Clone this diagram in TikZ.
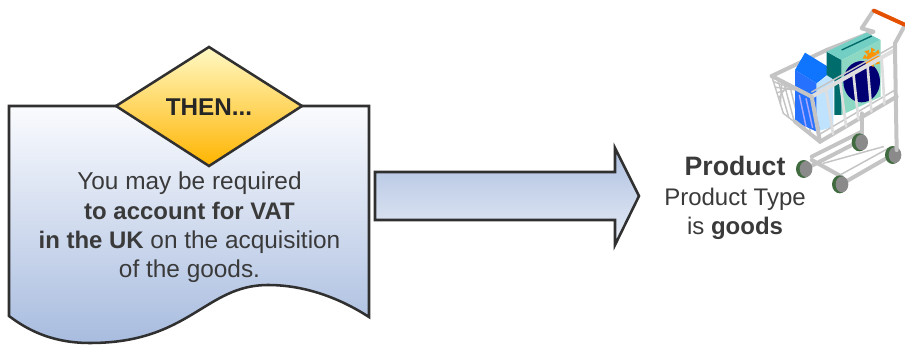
\documentclass[tikz,border=0pt]{standalone}
\usepackage{fontspec}
\setmainfont{Liberation Sans}
\usetikzlibrary{calc}
\definecolor{ink}{HTML}{303030}
\definecolor{txt}{HTML}{3A3A3A}
\definecolor{bar}{HTML}{C4C4C4}
\definecolor{barl}{HTML}{DEDEDE}
\definecolor{wheelg}{HTML}{8A8A8A}
\definecolor{wheeld}{HTML}{3F6B3F}
\definecolor{docT}{HTML}{FAFBFE}
\definecolor{docB}{HTML}{A8BCDF}
\definecolor{arrT}{HTML}{AEC0E0}
\definecolor{arrB}{HTML}{E6ECF6}
\definecolor{diaT}{HTML}{FFF9C4}
\definecolor{diaB}{HTML}{FFB400}
\definecolor{cartonface}{HTML}{BFE3FF}
\tikzset{
 outline/.style={draw=ink,line width=1.9pt,line join=miter},
 label/.style={font=\fontsize{18.3pt}{22pt}\selectfont,text=txt,align=center,inner sep=0pt},
 cartbar/.style={draw=bar,line width=3pt,line cap=round,line join=round},
 cartmid/.style={draw=barl,line width=2pt,line cap=round},
 cartfine/.style={draw=bar,line width=1.1pt,line cap=round},
 wheelback/.style={fill=wheeld,draw=none},
 wheelfront/.style={fill=wheelg,draw=none},
}
\newcommand{\bfx}[1]{{\fontsize{17.95pt}{22pt}\selectfont\bfseries #1}}
\begin{document}
\begin{tikzpicture}[x=0.75pt,y=-0.75pt]
\useasboundingbox (0,0) rectangle (905,345);
% document shape
\path[outline,top color=docT,bottom color=docB]
  (9,106) -- (369,106) -- (369,317)
  .. controls (335,295) and (300,285) .. (268,285)
  .. controls (205,285) and (190,343) .. (90,343)
  .. controls (55,343) and (30,332) .. (9,316) -- cycle;
% diamond
\path[outline,top color=diaT,bottom color=diaB]
  (209,47) -- (302,106) -- (209,166) -- (116,106) -- cycle;
\node[label,font=\fontsize{18.2pt}{22pt}\selectfont\bfseries,text=black!85] (then) at (209,107) {THEN...};
\node[label,anchor=center] (body) at (189.5,227.5) {You may be required\\\bfx{to account for VAT}\\\bfx{in the UK} on the acquisition\\of the goods.};
% block arrow
\path[outline,top color=arrT,bottom color=arrB]
  (375,172) -- (615,172) -- (615,148) -- (639,196) -- (615,245) -- (615,220) -- (375,220) -- cycle;
% product text
\node[label,font=\fontsize{18pt}{22pt}\selectfont] (prod) at (735,198) {\textbf{\fontsize{20pt}{22pt}\selectfont Product}\\Product Type\\is \textbf{goods}};
% cart
\begin{scope}[shift={(740,0)},x=0.25pt,y=-0.25pt]
 % rear base and legs
 \draw[cartbar] (365,340) -- (365,420);
 \draw[cartbar] (215,470) -- (365,395) (200,505) -- (365,420);
 \draw[cartbar] (300,555) -- (465,460);
 \draw[cartbar] (215,480) -- (305,530);
 \draw[cartfine] (250,490) -- (430,440) (300,525) -- (445,445);
 % wheels
 \foreach \n/\wx/\wy in {a/195/507,b/303/553,c/362/427,d/462/465}{
   \fill[wheelback] (\wx-4,\wy) ellipse [x radius=23,y radius=27];
   \fill[wheelfront] (\wx+3,\wy) ellipse [x radius=19,y radius=24];
 }
 % back of basket
 \draw[cartbar] (95,228) -- (260,150) -- (400,95);
 \draw[cartfine] (95,228) -- (130,340) -- (240,425);
 \foreach \t in {0.15,0.3,...,0.9}{
   \draw[cartfine] ($(95,228)!\t!(130,340)$) -- ($(95,228)!1-\t!(215,290)$);
   \draw[cartfine] ($(95,228)!\t!(215,290)$) -- ($(130,340)!\t!(240,425)$);
 }
 % carton
 \fill[fill=white!10!blue!60!cyan] (165,210) -- (195,158) -- (280,210) -- (230,250) -- cycle;
 \fill[fill=blue!65!cyan!85!white] (165,210) -- (230,250) -- (230,395) -- (165,365) -- cycle;
 \fill[fill=cartonface] (230,250) -- (280,215) -- (280,380) -- (230,395) -- cycle;
 \foreach \s in {0,20,40}
   \draw[white!65!blue,line width=1.1pt] (178+\s,285+\s*.5) -- (198+\s,380+\s*.2);
 % box
 \fill[fill=teal!85!black] (260,155) -- (305,180) -- (305,345) -- (283,345) -- (283,240) -- (260,225) -- cycle;
 \fill[fill=cyan!55!green!55!white] (260,155) -- (380,98) -- (422,120) -- (305,180) -- cycle;
 \fill[fill=cyan!45!green!45!white] (305,180) -- (422,120) -- (422,290) -- (305,345) -- cycle;
 \draw[teal!80!black,line width=1pt] (305,150) -- (395,108);
 \fill[fill=blue!45!black] (365,245) ellipse [x radius=55,y radius=62];
 \fill[fill=orange!85!yellow] (397,172) circle [radius=17];
 \foreach \a in {0,45,...,315}
   \fill[fill=orange!85!yellow] (397,172) ++(\a-15:15) -- ++(\a:15) -- ++(\a+120:15) -- cycle;
 % front of basket
 \draw[cartbar] (95,228) -- (215,290);
 \draw[cartmid,line width=3pt] (215,290) -- (465,150);
 \draw[cartfine] (215,276) -- (465,136);
 \draw[cartbar] (240,425) -- (470,290);
 \draw[cartfine] (235,405) -- (465,270);
 \draw[cartbar] (465,150) -- (470,450);
 \draw[cartbar] (215,290) -- (240,425);
 \foreach \t in {0.17,0.34,0.5,0.67,0.84}
   \draw[cartmid] ($(215,290)!\t!(465,150)$) -- ($(240,425)!\t!(470,290)$);
 \draw[cartbar] (165,365) -- (240,425);
 % handle
 \draw[cartbar] (400,95) -- (365,85) -- (400,32);
 \draw[cartbar] (465,150) -- (465,130) -- (495,75);
 \draw[draw=orange!70!red!90!black,line width=3pt,line cap=round] (402,32) -- (494,74);
\end{scope}
\end{tikzpicture}
\end{document}
